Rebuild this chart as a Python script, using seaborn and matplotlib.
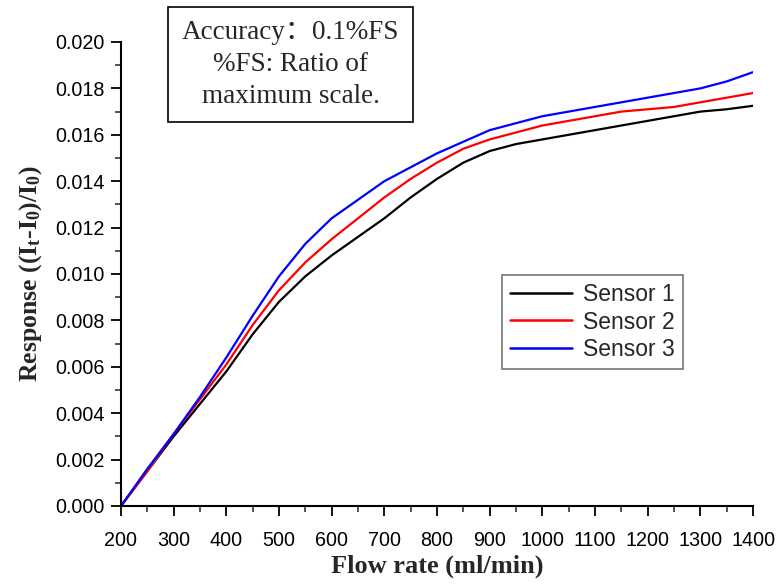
import matplotlib
matplotlib.use("Agg")
import matplotlib.pyplot as plt
import seaborn as sns
import pandas as pd
from matplotlib.ticker import MultipleLocator, FormatStrFormatter

flow = [200, 250, 300, 350, 400, 450, 500, 550, 600, 650, 700, 750, 800,
        850, 900, 950, 1000, 1050, 1100, 1150, 1200, 1250, 1300, 1350, 1400]
sensor1 = [0, .0015, .0030, .0044, .0058, .0074, .0088, .0099, .0108, .0116, .0124, .0133, .0141,
           .0148, .0153, .0156, .0158, .0160, .0162, .0164, .0166, .0168, .0170, .0171, .01725]
sensor2 = [0, .0015, .0031, .0046, .0061, .0078, .0093, .0105, .0115, .0124, .0133, .0141, .0148,
           .0154, .0158, .0161, .0164, .0166, .0168, .0170, .0171, .0172, .0174, .0176, .0178]
sensor3 = [0, .0016, .0031, .0047, .0064, .0082, .0099, .0113, .0124, .0132, .0140, .0146, .0152,
           .0157, .0162, .0165, .0168, .0170, .0172, .0174, .0176, .0178, .0180, .0183, .0187]
names = ["Sensor 1", "Sensor 2", "Sensor 3"]
colors = ["black", "red", "blue"]

df = pd.concat([
    pd.DataFrame({"flow": flow, "resp": s, "sensor": n})
    for s, n in zip([sensor1, sensor2, sensor3], names)
])

sns.set_style("ticks")
plt.rcParams["font.family"] = ["Liberation Sans", "DejaVu Sans"]
plt.rcParams["mathtext.fontset"] = "custom"
plt.rcParams["mathtext.rm"] = "Liberation Serif:bold"
plt.rcParams["mathtext.bf"] = "Liberation Serif:bold"
plt.rcParams["mathtext.it"] = "Liberation Serif:bold"

fig = plt.figure(figsize=(7.82, 5.84), dpi=100)
ax = fig.add_axes([0.1547, 0.1336, 0.8083, 0.7945])

sns.lineplot(data=df, x="flow", y="resp", hue="sensor", palette=colors,
             linewidth=1.6, ax=ax)

ax.set_xlim(200, 1400)
ax.set_ylim(0, 0.020)
ax.xaxis.set_major_locator(MultipleLocator(100))
ax.xaxis.set_minor_locator(MultipleLocator(50))
ax.yaxis.set_major_locator(MultipleLocator(0.002))
ax.yaxis.set_minor_locator(MultipleLocator(0.001))
ax.yaxis.set_major_formatter(FormatStrFormatter("%.3f"))
ax.tick_params(which="major", direction="out", length=7, width=1.3,
               labelsize=14.2, colors="black")
ax.tick_params(axis="x", which="major", pad=11)
ax.tick_params(axis="y", which="major", pad=5)
ax.tick_params(which="minor", direction="out", length=4, width=1.1)
for s in ["left", "bottom"]:
    ax.spines[s].set_linewidth(1.5)
    ax.spines[s].set_color("black")
sns.despine(ax=ax)

ax.set_xlabel("Flow rate (ml/min)", family="Liberation Serif",
              fontweight="bold", fontsize=19, labelpad=3)
ax.set_ylabel(r"Response ((I$_{t}$-I$_{0}$)/I$_{0}$)", family="Liberation Serif",
              fontweight="bold", fontsize=18.5, labelpad=8)

leg = ax.legend(loc="upper left", bbox_to_anchor=(0.603, 0.498), title=None,
                fontsize=16.5, frameon=True, fancybox=False, handlelength=2.7,
                borderpad=0.35, labelspacing=0.2, handletextpad=0.5,
                borderaxespad=0)
leg.get_frame().set_edgecolor("#555555")
leg.get_frame().set_linewidth(1.2)
for line in leg.get_lines():
    line.set_linewidth(1.8)

fig.text(0.3715, 0.8896, "Accuracy\uff1a0.1%FS\n%FS: Ratio of\nmaximum scale.",
         ha="center", va="center", fontsize=19.5, linespacing=1.35,
         family=["Liberation Serif", "Noto Sans CJK SC", "DejaVu Sans"],
         bbox=dict(boxstyle="square,pad=0.5", facecolor="white",
                   edgecolor="black", linewidth=1.2))

fig.savefig("out.png", dpi=100)
